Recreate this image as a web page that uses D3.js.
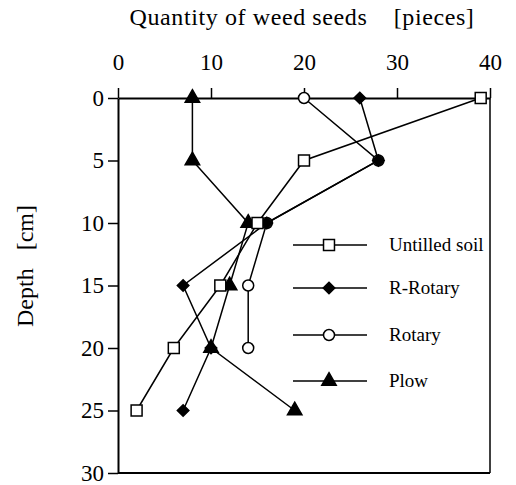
<!DOCTYPE html>
<html>
<head>
<meta charset="utf-8">
<script src="https://cdn.jsdelivr.net/npm/d3@7"></script>
<style>
  body { margin: 0; background: #fff; }
  text { font-family: "Liberation Serif", "Times New Roman", serif; fill: #000; }
</style>
</head>
<body>
<div id="chart"></div>
<script>
// depths in cm, values = number of weed seeds
var depths = [0, 5, 10, 15, 20, 25];
var untilled = [39, 20, 15, 11, 6, 2];
var rRotary = [26, 28, 16, 7, 10, 7];
var rotary = [20, 28, 16, 14, 14, null];
var plow = [8, 8, 14, 12, 10, 19];
var xTicks = [0, 10, 20, 30, 40];
var yTicks = [0, 5, 10, 15, 20, 25, 30];

var series = [
  {name: 'Plow', values: plow, shape: 'triangle', fill: '#000'},
  {name: 'Rotary', values: rotary, shape: 'circle', fill: '#fff'},
  {name: 'R-Rotary', values: rRotary, shape: 'diamond', fill: '#000'},
  {name: 'Untilled soil', values: untilled, shape: 'square', fill: '#fff'}
];
var legendOrder = ['Untilled soil', 'R-Rotary', 'Rotary', 'Plow'];

var width = 516, height = 485;
var svg = d3.select('#chart').append('svg')
  .attr('width', width)
  .attr('height', height);

var x = d3.scaleLinear().domain([0, 40]).range([118, 490]);
var y = d3.scaleLinear().domain([0, 30]).range([98, 473]);

var symbolTypes = {
  triangle: d3.symbolTriangle,
  circle: d3.symbolCircle,
  diamond: d3.symbolDiamond2 || d3.symbolDiamond,
  square: d3.symbolSquare
};
var symbolSizes = {triangle: 90, circle: 95, diamond: 85, square: 120};

function marker(sel, shape, fill) {
  sel.append('path')
    .attr('d', d3.symbol().type(symbolTypes[shape]).size(symbolSizes[shape]))
    .attr('fill', fill)
    .attr('stroke', '#000')
    .attr('stroke-width', 1.5);
}

// axes
var topAxis = svg.append('g')
  .attr('transform', 'translate(0,' + y(0) + ')')
  .call(d3.axisTop(x).tickValues(xTicks).tickSize(10).tickSizeOuter(0).tickPadding(18));
var leftAxis = svg.append('g')
  .attr('transform', 'translate(' + x(0) + ',0)')
  .call(d3.axisLeft(y).tickValues(yTicks).tickSize(10).tickSizeOuter(0).tickPadding(4));
[topAxis, leftAxis].forEach(function (g) {
  g.select('.domain').attr('stroke-width', 2);
  g.selectAll('.tick line').attr('stroke-width', 1.5);
  g.selectAll('.tick text')
    .style('font-family', '"Liberation Serif", serif')
    .style('font-size', '23px')
    .attr('fill', '#000');
});

// frame right and bottom
svg.append('line')
  .attr('x1', x(40)).attr('x2', x(40))
  .attr('y1', y(0)).attr('y2', y(30))
  .attr('stroke', '#000').attr('stroke-width', 1.5);
svg.append('line')
  .attr('x1', x(0)).attr('x2', x(40))
  .attr('y1', y(30)).attr('y2', y(30))
  .attr('stroke', '#000').attr('stroke-width', 2);

// axis titles
svg.append('text')
  .attr('x', 302).attr('y', 25)
  .attr('text-anchor', 'middle')
  .style('font-size', '24px')
  .style('letter-spacing', '0.6px')
  .attr('xml:space', 'preserve')
  .text('Quantity of weed seeds    [pieces]');

svg.append('text')
  .attr('transform', 'translate(33,266) rotate(-90)')
  .attr('text-anchor', 'middle')
  .style('font-size', '24px')
  .attr('xml:space', 'preserve')
  .text('Depth   [cm]');

// lines
var line = d3.line()
  .defined(function (d) { return d.v != null; })
  .x(function (d) { return x(d.v); })
  .y(function (d) { return y(d.depth); });

series.forEach(function (s) {
  var pts = depths.map(function (dep, i) { return {depth: dep, v: s.values[i]}; });
  svg.append('path')
    .datum(pts)
    .attr('d', line)
    .attr('fill', 'none')
    .attr('stroke', '#000')
    .attr('stroke-width', 1.5);
});

series.forEach(function (s) {
  var pts = depths.map(function (dep, i) { return {depth: dep, v: s.values[i]}; })
    .filter(function (d) { return d.v != null; });
  svg.selectAll(null)
    .data(pts)
    .enter()
    .append('g')
    .attr('transform', function (d) { return 'translate(' + x(d.v) + ',' + y(d.depth) + ')'; })
    .each(function () { marker(d3.select(this), s.shape, s.fill); });
});

// legend
var legendY = [245, 288, 335, 381];
legendOrder.forEach(function (name, i) {
  var s = series.find(function (d) { return d.name === name; });
  var g = svg.append('g').attr('transform', 'translate(293,' + legendY[i] + ')');
  g.append('line')
    .attr('x1', 0).attr('x2', 74)
    .attr('stroke', '#000').attr('stroke-width', 1.5);
  var m = g.append('g').attr('transform', 'translate(36,0)');
  marker(m, s.shape, s.fill);
  g.append('text')
    .attr('x', 96).attr('y', 6)
    .style('font-size', '19px')
    .text(name);
});
</script>
</body>
</html>
